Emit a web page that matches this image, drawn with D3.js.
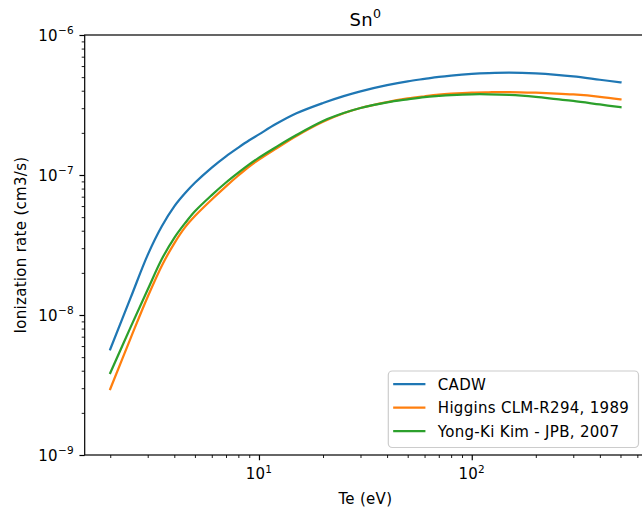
<!DOCTYPE html>
<html>
<head>
<meta charset="utf-8">
<script src="https://cdn.jsdelivr.net/npm/d3@7"></script>
<style>
  body { margin: 0; background: #fff; }
  svg { display: block; font-family: "DejaVu Sans", sans-serif; }
</style>
</head>
<body>
<div id="chart"></div>
<script>
// electron temperature (eV)
var te = [2, 2.5, 3, 3.5, 4, 4.5, 5, 6, 7, 8, 9, 10, 12, 15, 20, 25, 30, 40, 50, 60, 70, 80, 100, 120, 150,
          200, 250, 300, 400, 500];
// ionization rates (cm3/s)
var cadw = [5.69e-9, 1.34e-8, 2.69e-8, 4.32e-8, 5.97e-8, 7.43e-8, 8.80e-8, 1.13e-7, 1.36e-7, 1.57e-7, 1.77e-7,
            1.95e-7, 2.31e-7, 2.76e-7, 3.27e-7, 3.66e-7, 3.96e-7, 4.38e-7, 4.67e-7, 4.86e-7, 5.02e-7, 5.13e-7,
            5.27e-7, 5.34e-7, 5.38e-7, 5.32e-7, 5.20e-7, 5.06e-7, 4.79e-7, 4.59e-7];
var higgins = [2.96e-9, 6.90e-9, 1.35e-8, 2.26e-8, 3.25e-8, 4.24e-8, 5.09e-8, 6.68e-8, 8.30e-8, 9.92e-8, 1.15e-7,
               1.29e-7, 1.54e-7, 1.90e-7, 2.40e-7, 2.76e-7, 3.01e-7, 3.32e-7, 3.52e-7, 3.65e-7, 3.75e-7, 3.81e-7,
               3.88e-7, 3.90e-7, 3.91e-7, 3.87e-7, 3.82e-7, 3.76e-7, 3.62e-7, 3.47e-7];
var kim = [3.85e-9, 8.26e-9, 1.52e-8, 2.52e-8, 3.56e-8, 4.54e-8, 5.51e-8, 7.19e-8, 8.84e-8, 1.04e-7, 1.19e-7,
           1.33e-7, 1.58e-7, 1.93e-7, 2.43e-7, 2.77e-7, 3.01e-7, 3.30e-7, 3.47e-7, 3.60e-7, 3.67e-7, 3.72e-7,
           3.77e-7, 3.77e-7, 3.73e-7, 3.61e-7, 3.48e-7, 3.38e-7, 3.19e-7, 3.05e-7];
var seriesNames = ["CADW", "Higgins CLM-R294, 1989", "Yong-Ki Kim - JPB, 2007"];
var seriesColors = ["#1f77b4", "#ff7f0e", "#2ca02c"];

// ticks
var xMajor = [10, 100];
var xMajorExp = ["1", "2"];
var yMajor = [1e-9, 1e-8, 1e-7, 1e-6];
var yMajorExp = ["\u22129", "\u22128", "\u22127", "\u22126"];

var W = 642, H = 512;
var margin = {top: 35, left: 84.7, right: 646, bottom: 455};
var fs = 15; // 10pt

var svg = d3.select("#chart")
  .append("svg")
    .attr("width", W)
    .attr("height", H)
    .style("letter-spacing", "0.3px");

var x = d3.scaleLog()
  .domain([1.517, 659])
  .range([margin.left, margin.right]);

var y = d3.scaleLog()
  .domain([1e-9, 1e-6])
  .range([margin.bottom, margin.top]);

// minor ticks 2..9 per decade
var xMinor = [], yMinor = [];
[1, 10, 100].forEach(function(d) {
  for (var k = 2; k < 10; k++) { if (k * d > 1.517 && k * d < 659) xMinor.push(k * d); }
});
[1e-9, 1e-8, 1e-7].forEach(function(d) {
  for (var k = 2; k < 10; k++) yMinor.push(k * d);
});

// clip to plot area
svg.append("clipPath").attr("id", "clip")
  .append("rect")
    .attr("x", margin.left).attr("y", margin.top)
    .attr("width", margin.right - margin.left)
    .attr("height", margin.bottom - margin.top);

// X axis
var gx = svg.append("g")
  .attr("transform", "translate(0," + margin.bottom + ")")
  .call(d3.axisBottom(x).tickValues(xMajor).tickFormat("").tickSize(5.25).tickSizeOuter(0));
svg.append("g")
  .attr("transform", "translate(0," + margin.bottom + ")")
  .call(d3.axisBottom(x).tickValues(xMinor).tickFormat("").tickSize(3).tickSizeOuter(0))
  .selectAll("line").attr("stroke-width", 0.9);

// Y axis
var gy = svg.append("g")
  .attr("transform", "translate(" + margin.left + ",0)")
  .call(d3.axisLeft(y).tickValues(yMajor).tickFormat("").tickSize(5.25).tickSizeOuter(0));
svg.append("g")
  .attr("transform", "translate(" + margin.left + ",0)")
  .call(d3.axisLeft(y).tickValues(yMinor).tickFormat("").tickSize(3).tickSizeOuter(0))
  .selectAll("line").attr("stroke-width", 0.9);

svg.selectAll(".domain").remove();
gx.selectAll("line").attr("stroke-width", 1.2);
gy.selectAll("line").attr("stroke-width", 1.2);

// tick labels as 10^n
var xl = svg.selectAll("xlab")
  .data(xMajor)
  .enter()
  .append("text")
    .attr("x", function(d) { return x(d); })
    .attr("y", 479)
    .attr("text-anchor", "middle")
    .style("font-size", fs + "px");
xl.append("tspan").text("10");
xl.append("tspan").attr("dy", -6.5).style("font-size", "10.5px").text(function(d, i) { return xMajorExp[i]; });

var yl = svg.selectAll("ylab")
  .data(yMajor)
  .enter()
  .append("text")
    .attr("x", 74)
    .attr("y", function(d) { return y(d) + 5.5; })
    .attr("text-anchor", "end")
    .style("font-size", fs + "px");
yl.append("tspan").text("10");
yl.append("tspan").attr("dy", -6.5).style("font-size", "10.5px").text(function(d, i) { return yMajorExp[i]; });

// lines
var line = d3.line()
  .x(function(d) { return x(d[0]); })
  .y(function(d) { return y(d[1]); })
  .curve(d3.curveCatmullRom.alpha(0.5));

[cadw, higgins, kim].forEach(function(vals, i) {
  svg.append("path")
    .datum(te.map(function(t, j) { return [t, vals[j]]; }))
    .attr("clip-path", "url(#clip)")
    .attr("fill", "none")
    .attr("stroke", seriesColors[i])
    .attr("stroke-width", 2.25)
    .attr("stroke-linecap", "square")
    .attr("stroke-linejoin", "round")
    .attr("d", line);
});

// frame
svg.append("rect")
  .attr("x", margin.left).attr("y", margin.top)
  .attr("width", margin.right - margin.left)
  .attr("height", margin.bottom - margin.top)
  .attr("fill", "none")
  .attr("stroke", "#000")
  .attr("stroke-width", 1.2);

// title
var title = svg.append("text")
  .attr("x", (margin.left + margin.right) / 2)
  .attr("y", 25.5)
  .attr("text-anchor", "middle")
  .style("font-size", "18px");
title.append("tspan").text("Sn");
title.append("tspan").attr("dy", -7.5).style("font-size", "12.6px").text("0");

// axis labels
svg.append("text")
  .attr("x", (margin.left + margin.right) / 2)
  .attr("y", 504)
  .attr("text-anchor", "middle")
  .style("font-size", fs + "px")
  .text("Te (eV)");

svg.append("text")
  .attr("transform", "translate(26," + (margin.top + margin.bottom) / 2 + ")rotate(-90)")
  .attr("text-anchor", "middle")
  .style("font-size", fs + "px")
  .text("Ionization rate (cm3/s)");

// legend
var lg = svg.append("g");
lg.append("rect")
  .attr("x", 388.3).attr("y", 371)
  .attr("width", 250.2).attr("height", 76.5)
  .attr("rx", 4)
  .attr("fill", "#fff").attr("fill-opacity", 0.8)
  .attr("stroke", "#cccccc").attr("stroke-width", 1.2);

lg.selectAll("mylines")
  .data(seriesNames)
  .enter()
  .append("line")
    .attr("x1", 394.3).attr("x2", 424.3)
    .attr("y1", function(d, i) { return 384 + i * 23.5; })
    .attr("y2", function(d, i) { return 384 + i * 23.5; })
    .attr("stroke", function(d, i) { return seriesColors[i]; })
    .attr("stroke-linecap", "square")
    .attr("stroke-width", 2.25);

lg.selectAll("mylabels")
  .data(seriesNames)
  .enter()
  .append("text")
    .attr("x", 437.8)
    .attr("y", function(d, i) { return 384 + i * 23.5 + 5.5; })
    .style("font-size", fs + "px")
    .text(function(d) { return d; });
</script>
</body>
</html>
